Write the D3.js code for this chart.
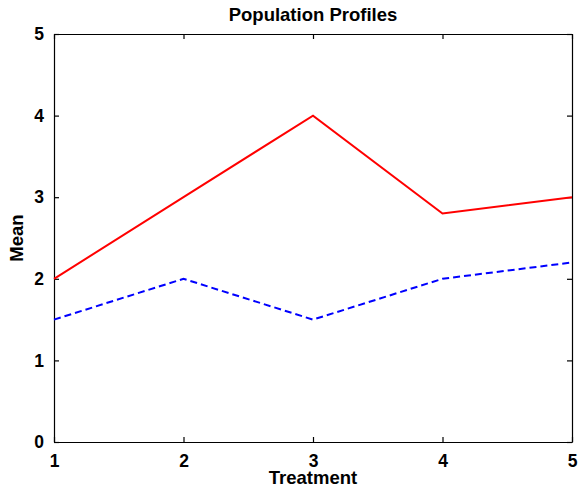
<!DOCTYPE html>
<html>
<head>
<meta charset="utf-8">
<script src="https://cdn.jsdelivr.net/npm/d3@7"></script>
<style>
  body { margin: 0; background: #fff; }
  #chart { width: 578px; height: 488px; }
  text { font-family: "Liberation Sans", Arial, sans-serif; font-weight: bold; fill: #000; }
</style>
</head>
<body>
<div id="chart"></div>
<script>
const treatments = [1, 2, 3, 4, 5];
const seriesA = [2, 3, 4, 2.8, 3];
const seriesB = [1.5, 2, 1.5, 2, 2.2];
const xTicks = [1, 2, 3, 4, 5];
const yTicks = [0, 1, 2, 3, 4, 5];

const width = 578, height = 488;
const margin = { top: 34, right: 6, bottom: 46, left: 54 };

const svg = d3.select("#chart").append("svg")
    .attr("width", width)
    .attr("height", height);

const x = d3.scaleLinear()
    .domain([1, 5])
    .range([margin.left, width - margin.right]);

const y = d3.scaleLinear()
    .domain([0, 5])
    .range([height - margin.bottom, margin.top]);

// axes (ticks pointing inward, mirrored on top/right)
const tick = 5;
const axBottom = svg.append("g")
    .attr("transform", `translate(0,${height - margin.bottom})`)
    .call(d3.axisBottom(x).tickValues(xTicks).tickSize(-tick).tickSizeOuter(0).tickPadding(10).tickFormat(d3.format("d")));
const axTop = svg.append("g")
    .attr("transform", `translate(0,${margin.top})`)
    .call(d3.axisTop(x).tickValues(xTicks).tickSize(-tick).tickSizeOuter(0).tickFormat(""));
const axLeft = svg.append("g")
    .attr("transform", `translate(${margin.left},0)`)
    .call(d3.axisLeft(y).tickValues(yTicks).tickSize(-tick).tickSizeOuter(0).tickPadding(10).tickFormat(d3.format("d")));
const axRight = svg.append("g")
    .attr("transform", `translate(${width - margin.right},0)`)
    .call(d3.axisRight(y).tickValues(yTicks).tickSize(-tick).tickSizeOuter(0).tickFormat(""));

[axBottom, axTop, axLeft, axRight].forEach(g => {
    g.selectAll("path, line").attr("stroke", "#000").attr("stroke-width", 1.2);
    g.selectAll("text").style("font-size", "17.5px").style("font-weight", "bold")
        .style("font-family", "'Liberation Sans', Arial, sans-serif");
});
axBottom.selectAll("text").attr("dy", "0.88em");

// lines
const line = d3.line()
    .x((d, i) => x(treatments[i]))
    .y(d => y(d));

svg.append("path")
    .datum(seriesA)
    .attr("fill", "none")
    .attr("stroke", "#ff0000")
    .attr("stroke-width", 2)
    .attr("d", line);

svg.append("path")
    .datum(seriesB)
    .attr("fill", "none")
    .attr("stroke", "#0000ff")
    .attr("stroke-width", 2)
    .attr("stroke-dasharray", "7,4")
    .attr("d", line);

// title + labels
svg.append("text")
    .attr("x", (margin.left + width - margin.right) / 2)
    .attr("y", 21)
    .attr("text-anchor", "middle")
    .style("font-size", "18.5px")
    .text("Population Profiles");

svg.append("text")
    .attr("x", (margin.left + width - margin.right) / 2)
    .attr("y", 484)
    .attr("text-anchor", "middle")
    .style("font-size", "18.5px")
    .text("Treatment");

svg.append("text")
    .attr("transform", `translate(23,${(margin.top + height - margin.bottom) / 2}) rotate(-90)`)
    .attr("text-anchor", "middle")
    .style("font-size", "18.5px")
    .text("Mean");
</script>
</body>
</html>
